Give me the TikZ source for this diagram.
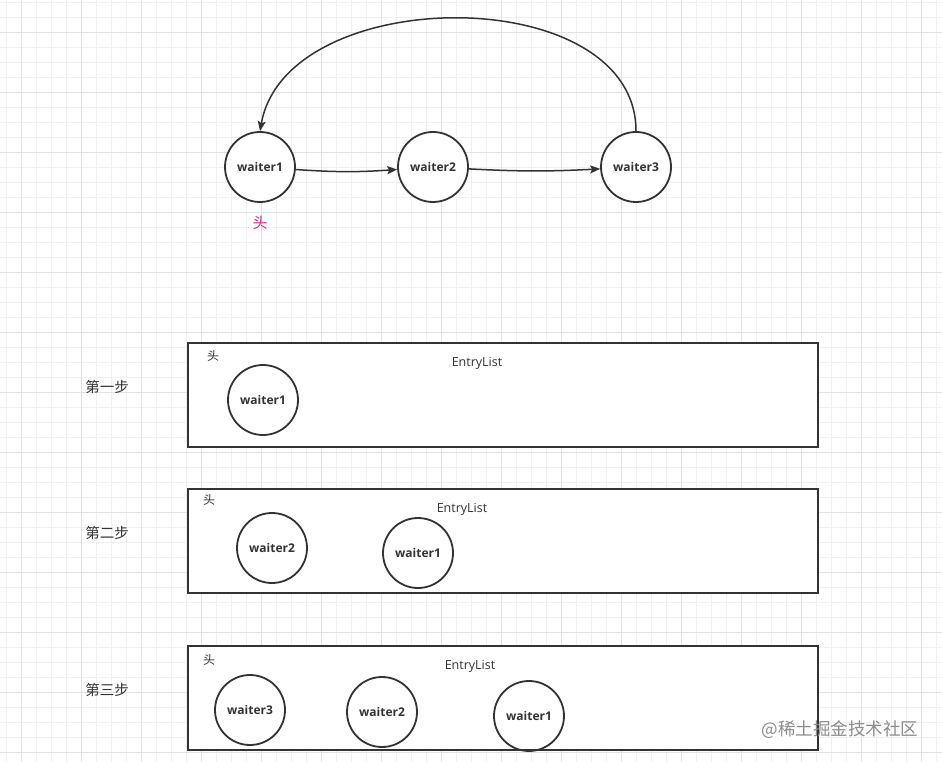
\documentclass[tikz,border=0pt]{standalone}
\usepackage{fontspec}
\setmainfont{Open Sans}
\newfontfamily\cjk{Noto Sans CJK SC}
\usetikzlibrary{arrows.meta,positioning}

\definecolor{gridminor}{HTML}{F0F0F0}
\definecolor{gridmajor}{HTML}{E2E2E2}
\definecolor{ink}{HTML}{333333}
\definecolor{headpink}{HTML}{E0227F}

\begin{document}
\begin{tikzpicture}[x=1pt,y=-1pt,on grid,
    waiter/.style={circle,draw=ink,line width=1.8pt,minimum size=70pt,inner sep=0pt,
      text=ink,font=\fontsize{12}{14}\selectfont\bfseries},
    entrylist/.style={draw=ink,line width=1.8pt,minimum width=630pt,minimum height=104pt,inner sep=0pt},
    steplabel/.style={text=ink,font=\cjk\fontsize{14.5}{16}\selectfont},
    headmark/.style={text=ink,font=\cjk\fontsize{12}{14}\selectfont},
    listname/.style={text=ink,font=\fontsize{12.5}{14}\selectfont},
    link/.style={-{Stealth[length=10pt,width=8pt,inset=2pt]},line width=1.5pt,color=ink}]
  \useasboundingbox (0,0) rectangle (942,762);
  \fill[white] (0,0) rectangle (942,762);
  % background grid
  \foreach \x in {6,21,...,936} \draw[gridminor,line width=0.7pt] (\x,0) -- (\x,762);
  \foreach \y in {2,17,...,760} \draw[gridminor,line width=0.7pt] (0,\y) -- (942,\y);
  \foreach \x in {21,81,...,936} \draw[gridmajor,line width=0.8pt] (\x,0) -- (\x,762);
  \foreach \y in {32,92,...,760} \draw[gridmajor,line width=0.8pt] (0,\y) -- (942,\y);

  % the queue
  \node[waiter,fill=white] (w_1) at (260,167) {waiter1};
  \node[waiter,fill=white] (w_2) [right=173pt of w_1] {waiter2};
  \node[waiter,fill=white] (w_3) [right=203pt of w_2] {waiter3};
  \node[text=headpink,font=\cjk\fontsize{15}{16}\selectfont] (head) [below=56pt of w_1] {头};
  \path[link]
    (w_1) edge [bend right=4] (w_2)
    (w_2) edge [bend right=3] (w_3)
    (w_3.north) edge [out=90,in=80,looseness=1.03] (w_1.north);

  % step 1
  \node[entrylist,fill=white] (list_1) at (503,395) {};
  \node[steplabel] (step_1) at (107,387) {第一步};
  \node[headmark] (head_1) at (213,356) {头};
  \node[listname] (name_1) at (477,363) {EntryList};
  \node[waiter] (l1_w1) at (263,400) {waiter1};

  % step 2
  \node[entrylist,fill=white] (list_2) at (503,541) {};
  \node[steplabel] (step_2) at (107,533) {第二步};
  \node[headmark] (head_2) at (209,500) {头};
  \node[listname] (name_2) at (462,509) {EntryList};
  \node[waiter] (l2_w2) at (272,548) {waiter2};
  \node[waiter] (l2_w1) at (418,553) {waiter1};

  % step 3
  \node[entrylist,fill=white] (list_3) at (503,698) {};
  \node[steplabel] (step_3) at (107,690) {第三步};
  \node[headmark] (head_3) at (209,660) {头};
  \node[listname] (name_3) at (470,666) {EntryList};
  \node[waiter] (l3_w3) at (250,710) {waiter3};
  \node[waiter] (l3_w2) at (382,712) {waiter2};
  \node[waiter] (l3_w1) at (529,716) {waiter1};

  \node[text=black!45,font=\cjk\fontsize{17.5}{19}\selectfont] (mark) at (840,730) {@稀土掘金技术社区};
\end{tikzpicture}
\end{document}
